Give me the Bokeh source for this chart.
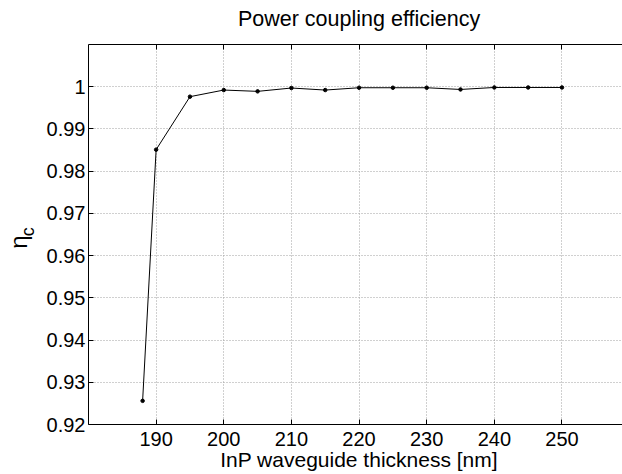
import math
from bokeh.plotting import figure
from bokeh.models import (Range1d, FixedTicker, LinearAxis, Label,
                          CustomJSTickFormatter)
from bokeh.embed import file_html
from bokeh.resources import INLINE

# ---- data ----
thickness = [188, 190, 195, 200, 205, 210, 215, 220, 225, 230, 235, 240, 245, 250]
efficiency = [0.9256, 0.9851, 0.99764, 0.99921, 0.99890, 0.99969, 0.99921,
              0.99976, 0.99976, 0.99976, 0.99935, 0.99982, 0.99982, 0.99982]
x_ticks = [190, 200, 210, 220, 230, 240, 250]
y_ticks = [0.92, 0.93, 0.94, 0.95, 0.96, 0.97, 0.98, 0.99, 1.00]
title_text = "Power coupling efficiency"
xlabel_text = "InP waveguide thickness [nm]"

FONT = "Liberation Sans"

p = figure(width=622, height=474, output_backend="svg", toolbar_location=None,
           x_range=Range1d(180, 258.95), y_range=Range1d(0.92, 1.01),
           min_border_left=88, min_border_right=0, min_border_top=44,
           min_border_bottom=50, background_fill_color="white",
           border_fill_color="white")
p.outline_line_color = None

xt = FixedTicker(ticks=x_ticks, minor_ticks=[])
yt = FixedTicker(ticks=y_ticks, minor_ticks=[])

for ax in (p.xaxis[0], p.yaxis[0]):
    ax.major_tick_in = 5
    ax.major_tick_out = 0
    ax.minor_tick_in = 0
    ax.minor_tick_out = 0
    ax.axis_line_color = "black"
    ax.axis_line_width = 1
    ax.major_tick_line_color = "black"
    ax.major_label_text_font = FONT
    ax.major_label_text_font_size = "20px"
    ax.major_label_text_color = "black"

p.xaxis[0].ticker = xt
p.yaxis[0].ticker = yt
p.xaxis[0].major_label_standoff = 7
p.yaxis[0].major_label_standoff = 3
p.yaxis[0].formatter = CustomJSTickFormatter(
    code="return Math.abs(tick - 1) < 1e-9 ? '1' : tick.toFixed(2);")

top_axis = LinearAxis(ticker=xt, major_tick_in=5, major_tick_out=0,
                      minor_tick_in=0, minor_tick_out=0,
                      major_label_text_font_size="0px",
                      major_label_text_color=None,
                      major_label_standoff=0,
                      axis_line_color="black", major_tick_line_color="black")
p.add_layout(top_axis, "above")

for g, t in ((p.xgrid[0], xt), (p.ygrid[0], yt)):
    g.ticker = t
    g.grid_line_color = "#a0a0a0"
    g.grid_line_dash = "1 2"
    g.grid_line_width = 1

p.line(thickness, efficiency, line_color="black", line_width=1)
p.scatter(thickness, efficiency, size=3.5, color="black")

# title (placed in side panels so it is not clipped to the frame)
p.add_layout(Label(x=220, y=1.01604, text=title_text, text_align="center",
                   text_baseline="alphabetic", text_font=FONT,
                   text_font_size="21.5px", text_color="black"), "above")
# x label
p.add_layout(Label(x=220, y=0.91171, text=xlabel_text, text_align="center",
                   text_baseline="alphabetic", text_font=FONT,
                   text_font_size="21px", text_color="black"), "below")
# y label eta_c
p.add_layout(Label(x=169.65, y=0.96320, text="η", angle=math.pi / 2,
                   text_align="center", text_baseline="alphabetic",
                   text_font=FONT, text_font_size="24px", text_color="black"),
             "left")
p.add_layout(Label(x=171.03, y=0.96568, text="c", angle=math.pi / 2,
                   text_align="center", text_baseline="alphabetic",
                   text_font=FONT, text_font_size="18px", text_color="black"),
             "above")

open("out.html", "w").write(file_html(p, INLINE))
